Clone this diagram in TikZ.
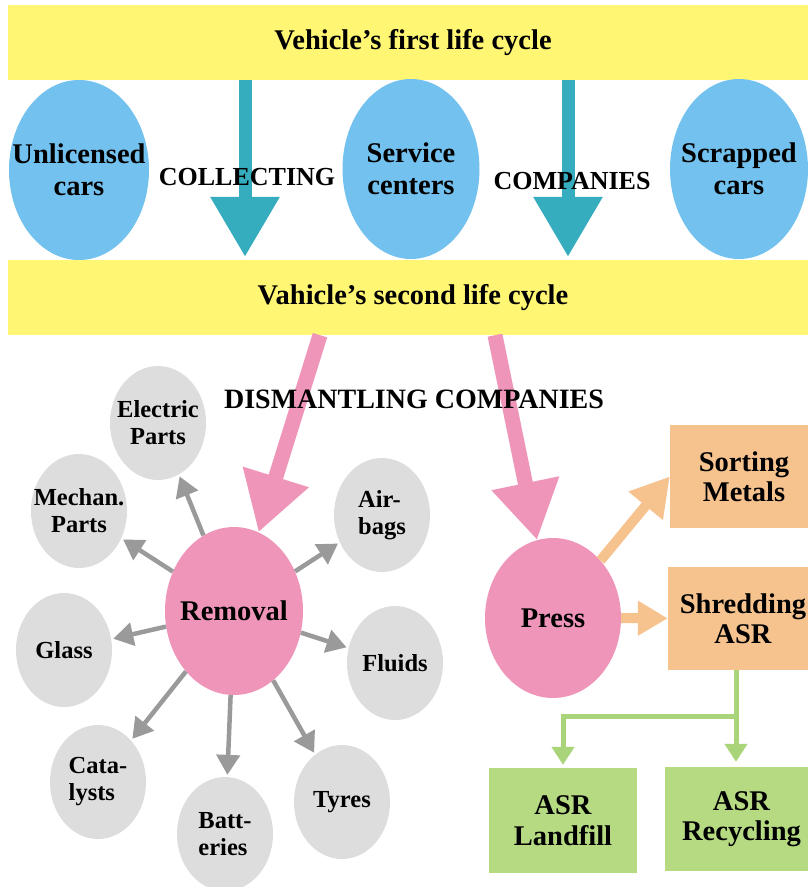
\documentclass[tikz,border=0pt]{standalone}
\usepackage{fontspec}
\setmainfont{Liberation Serif}
\usetikzlibrary{shapes.geometric,arrows.meta,calc}
\definecolor{bandyellow}{HTML}{FFF674}
\definecolor{skyblue}{HTML}{72C1EE}
\definecolor{tealc}{HTML}{36ADBF}
\definecolor{pinkc}{HTML}{F095BA}
\definecolor{lgray}{HTML}{DDDDDD}
\definecolor{dgray}{HTML}{9A9A9A}
\definecolor{orangec}{HTML}{F6C38F}
\definecolor{greenc}{HTML}{B5DA82}
\definecolor{greenl}{HTML}{A9D47A}
\begin{document}
\begin{tikzpicture}[x=1pt,y=-1pt,
  bigtxt/.style={font={\bfseries\fontsize{28.5}{32}\selectfont}, align=center, text=black},
  boxtxt/.style={font={\bfseries\fontsize{28.5}{30.5}\selectfont}, align=center, text=black},
  midtxt/.style={font={\bfseries\fontsize{24.5}{27}\selectfont}, align=center, text=black},
  midtxtl/.style={font={\bfseries\fontsize{24.5}{27}\selectfont}, align=left, text=black},
  labtxt/.style={font={\bfseries\fontsize{26}{28}\selectfont}, text=black, inner sep=0pt},
  band/.style={fill=bandyellow, minimum width=810pt, minimum height=75pt, inner sep=0pt, bigtxt},
  blueell/.style={ellipse, fill=skyblue, minimum width=140pt, minimum height=180pt, inner sep=0pt},
  grayell/.style={ellipse, fill=lgray, minimum width=96pt, minimum height=114pt, inner sep=0pt},
  pinkell/.style={ellipse, fill=pinkc, inner sep=0pt},
  orangebox/.style={fill=orangec, inner sep=0pt, boxtxt},
  greenbox/.style={fill=greenc, inner sep=0pt, boxtxt},
  tealarrow/.style={draw=tealc, line width=13pt, -{Triangle[width=66pt,length=60pt]}, shorten >=3pt},
  pinkarrow/.style={draw=pinkc, line width=15pt, -{Triangle[width=65pt,length=58pt]}},
  grayarrow/.style={draw=dgray, line width=4.5pt, -{Triangle[width=23pt,length=20pt]}, shorten >=2pt},
  orangearrowA/.style={draw=orangec, line width=10pt, -{Triangle[width=42pt,length=38pt]}},
  orangearrowB/.style={draw=orangec, line width=10pt, -{Triangle[width=33pt,length=30pt]}},
  greenarrow/.style={draw=greenl, line width=5pt, -{Triangle[width=22pt,length=18pt]}}
]
\useasboundingbox (0,0) rectangle (808,887);
\fill[white] (0,0) rectangle (808,887);

% bands
\node[band] (band1) at (413,42.5) {Vehicle’s first life cycle};
\node[band] (band2) at (413,297.5) {Vahicle’s second life cycle};

% first life cycle ellipses
\node[blueell, label={[bigtxt]center:Unlicensed\\cars}] (unl) at (79,170) {};
\node[blueell, minimum width=137pt, label={[bigtxt]center:Service\\centers}] (serv) at (411,169) {};
\node[blueell, minimum width=138pt, label={[bigtxt]center:Scrapped\\cars}] (scrap) at (739,169) {};

% teal arrows
\coordinate (ca) at (245,0);
\coordinate (cb) at (568,0);
\draw[tealarrow] (band1.south -| ca) -- (band2.north -| ca);
\draw[tealarrow] (band1.south -| cb) -- (band2.north -| cb);
\node[labtxt] (lcol) at (247,177.5) {COLLECTING};
\node[labtxt] (lcom) at (572,181.5) {COMPANIES};

% removal parts
\node[grayell, label={[midtxt]center:Electric\\Parts}] (elec) at (158,423) {};
\node[grayell, label={[midtxt]center:Mechan.\\Parts}] (mech) at (79,511) {};
\node[grayell, label={[midtxt]center:Glass}] (glass) at (64,650) {};
\node[grayell, label={[midtxtl]center:Cata-\\lysts}] (cata) at (98,782) {};
\node[grayell, label={[midtxtl]center:Batt-\\eries}] (batt) at (225,834) {};
\node[grayell, label={[midtxt]center:Tyres}] (tyres) at (342,802) {};
\node[grayell, label={[midtxt]center:Fluids}] (fluids) at (395,663) {};
\node[grayell, label={[midtxtl]center:Air-\\bags}] (airbags) at (382,515) {};

\node[pinkell, minimum width=138pt, minimum height=168pt, label={[bigtxt]center:Removal}] (rem) at (234,611) {};
\node[pinkell, minimum width=136pt, minimum height=160pt, label={[bigtxt]center:Press}] (press) at (553,618) {};

% boxes
\node[orangebox, minimum width=148pt, minimum height=103pt] (sort) at (744,476.5) {Sorting\\Metals};
\node[orangebox, minimum width=150pt, minimum height=103pt] (shred) at (743,618.5) {Shredding\\ASR};
\node[greenbox, minimum width=148pt, minimum height=105pt] (landfill) at (563,820.5) {ASR\\Landfill};
\node[greenbox, minimum width=153pt, minimum height=104pt] (recyc) at (741.5,819) {ASR\\Recycling};

% gray arrows
\foreach \t in {elec,mech,glass,cata,batt,tyres,fluids,airbags}
  \draw[grayarrow] (rem) -- (\t);

% pink arrows
\coordinate (pa) at (320,0);
\coordinate (pb) at (495,0);
\draw[pinkarrow] (band2.south -| pa) -- (rem);
\draw[pinkarrow] (band2.south -| pb) -- (press);

% orange arrows
\draw[orangearrowA] (press) -- (sort.west);
\draw[orangearrowB] (press) -- (shred);

% green connectors
\coordinate (gj) at (736,716);
\draw[greenarrow, shorten >=3pt] (shred.south -| gj) -- (gj) -| (landfill.north);
\draw[greenarrow, shorten >=5pt] (gj) -- (recyc.north -| gj);

\node[bigtxt, font={\bfseries\fontsize{28}{30}\selectfont}] (dism) at (414,399) {DISMANTLING COMPANIES};
\end{tikzpicture}
\end{document}
